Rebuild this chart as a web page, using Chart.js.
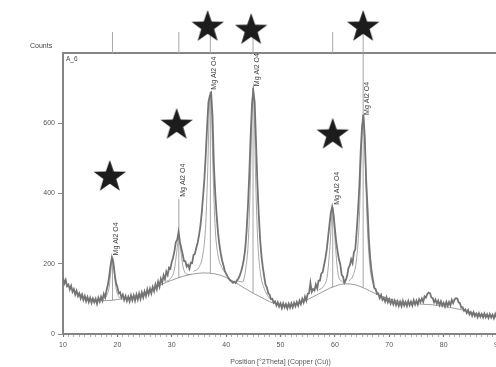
<!DOCTYPE html>
<html>
<head>
<meta charset="utf-8">
<script src="https://cdn.jsdelivr.net/npm/chart.js@4.4.1/dist/chart.umd.min.js"></script>
<style>
  html, body { margin: 0; padding: 0; background: #fff; overflow: hidden; }
  #wrap { width: 496px; height: 367px; overflow: hidden; }
</style>
</head>
<body>
<div id="wrap"><canvas id="xrd" width="500" height="367"></canvas></div>
<script>
const obsStart = 10, obsStep = 0.25;
const obsCounts = [
  160, 144, 154, 136,  140, 127, 137, 120,  128, 112, 123, 108,  116, 101, 112, 97,
  108, 93, 105, 91,    103, 89, 101, 90,    100, 86, 103, 92,    106, 95, 114, 104,
  124, 140, 165, 195,  218, 205, 172, 145,  134, 116, 119, 104,  112, 97, 108, 94,
  106, 93, 110, 96,    110, 95, 112, 98,    115, 100, 118, 104,  121, 108, 127, 113,
  129, 116, 134, 122,  141, 128, 149, 135,  157, 146, 167, 156,  178, 168, 189, 186,
  205, 218, 236, 262,  268, 290, 262, 245,  228, 208, 207, 192,  197, 186, 203, 202,
  225, 228, 245, 258,  280, 305, 342, 390,  440, 510, 590, 660,  678, 685, 620, 480,
  400, 340, 290, 256,  230, 210, 196, 180,  172, 164, 158, 152,  150, 146, 149, 145,
  153, 158, 166, 178,  192, 212, 240, 290,  360, 450, 560, 650,  692, 660, 545, 430,
  340, 270, 222, 190,  164, 140, 132, 116,  112, 99, 100, 89,    93, 81, 90, 78,
  87, 74, 87, 76,      85, 73, 86, 75,      87, 76, 89, 79,      91, 81, 95, 85,
  100, 90, 106, 95,    114, 116, 145, 120,  128, 124, 141, 130,  152, 152, 172, 176,
  195, 215, 240, 275,  310, 345, 362, 340,  300, 262, 235, 212,  198, 168, 163, 146,
  153, 165, 188, 195,  213, 202, 233, 241,  290, 350, 420, 520,  590, 625, 560, 440,
  360, 270, 215, 178,  153, 131, 128, 114,  115, 102, 111, 97,   103, 92, 104, 90,
  99, 86, 96, 84,      95, 82, 93, 80,      92, 79, 94, 81,      91, 80, 94, 82,
  92, 81, 96, 84,      95, 84, 99, 91,      101, 92, 107, 104,   114, 118, 116, 104,
  102, 90, 98, 86,     95, 82, 93, 81,      89, 78, 91, 80,      91, 82, 97, 88,
  98, 102, 101, 90,    88, 75, 76, 66,      70, 60, 68, 56,      62, 52, 62, 51,
  58, 48, 59, 49,      57, 47, 58, 48,      56, 46, 57, 47,      55, 45, 57, 47,
  54
];

// Fitted background, one value per degree
const bgAngles = [10,11,12,13,14,15,16,17,18,19,20,21,22,23,24,25,26,27,28,29,30,
  31,32,33,34,35,36,37,38,39,40,41,42,43,44,45,46,47,48,49,50,51,52,53,54,55,56,57,58,59,60,
  61,62,63,64,65,66,67,68,69,70,71,72,73,74,75,76,77,78,79,80,81,82,83,84,85,86,87,88,89,90];
const bgCounts = [150,136,124,114,106,100,97,95,95,96,98,100,103,107,112,118,125,132,140,147,153,
  159,164,168,171,173,174,173,171,167,161,153,144,134,125,116,108,100,92,87,84,82,83,86,91,98,106,114,122,130,136,
  141,143,142,139,133,126,118,111,105,100,96,92,89,87,86,85,84,83,81,79,76,73,70,66,62,58,55,52,50,48];

// Mg Al2 O4 peaks
const peakPos = [19.1, 31.3, 37.1, 44.95, 59.6, 65.2];
const peakBase = [96, 159, 173, 116, 133, 132];
const stickTop = [218, 385, 690, 700, 362, 800];
const labelAt = [218, 385, 690, 700, 362, 618];
const peakLabel = 'Mg Al2 O4';

// fitted single-peak profiles (angle, counts)
const fitAngles = [
  [17.5, 18, 18.5, 18.8, 19.1, 19.4, 19.7, 20.2, 20.7],
  [29, 29.8, 30.5, 31, 31.3, 31.6, 32.1, 32.8, 33.6],
  [34, 35, 35.7, 36.2, 36.6, 36.9, 37.1, 37.3, 37.6, 38, 38.5, 39.2, 40.2],
  [42, 43, 43.6, 44.1, 44.5, 44.75, 44.95, 45.15, 45.4, 45.8, 46.3, 47, 48],
  [57, 58, 58.6, 59.1, 59.6, 60.1, 60.6, 61.3, 62],
  [62.5, 63.3, 64, 64.5, 64.9, 65.2, 65.5, 65.9, 66.4, 67.1, 68]
];
const fitCounts = [
  [100, 108, 135, 180, 218, 180, 135, 108, 101],
  [150, 158, 185, 245, 285, 245, 190, 170, 169],
  [178, 190, 225, 300, 460, 640, 690, 640, 460, 300, 225, 190, 168],
  [152, 148, 185, 270, 460, 650, 700, 650, 460, 270, 175, 130, 100],
  [125, 138, 165, 250, 362, 250, 170, 150, 146],
  [150, 165, 215, 330, 540, 620, 540, 330, 200, 140, 115]
];

// reference marks (stars partly sit above the frame)
const refTop = 860;
const starAngles = [18.6, 30.9, 59.6, 36.6, 44.6, 65.2];
const starCounts = [447, 595, 567, 874, 865, 874];

const xTicks = [10, 20, 30, 40, 50, 60, 70, 80, 90];
const yTicks = [0, 200, 400, 600];

const FONT = 'Liberation Sans, Arial, sans-serif';
const LINE = '#8e8e8e';

function makeStar(r) {
  const c = document.createElement('canvas');
  c.width = c.height = 2 * r + 2;
  const g = c.getContext('2d');
  g.fillStyle = '#1c1c1c';
  g.beginPath();
  for (let i = 0; i < 10; i++) {
    const a = -Math.PI / 2 + i * Math.PI / 5;
    const rr = i % 2 ? r * 0.4 : r;
    g.lineTo(r + 1 + rr * Math.cos(a), r + 1 + rr * Math.sin(a));
  }
  g.closePath();
  g.fill();
  return c;
}
const starImg = makeStar(17);

const observed = obsCounts.map((v, i) => ({ x: obsStart + i * obsStep, y: v }));
const background = bgAngles.map((a, i) => ({ x: a, y: bgCounts[i] }));

const sticks = [];
const topSticks = [];
peakPos.forEach((p, i) => {
  sticks.push({ x: p, y: peakBase[i] }, { x: p, y: stickTop[i] }, { x: p, y: null });
  topSticks.push({ x: p, y: 800 }, { x: p, y: refTop }, { x: p, y: null });
});

const datasets = [
  {
    data: observed, borderColor: '#747474', borderWidth: 1.8,
    pointRadius: 0, tension: 0
  },
  {
    data: topSticks, borderColor: '#a8a8a8', borderWidth: 1,
    pointRadius: 0, clip: false, spanGaps: false
  },
  {
    data: sticks, borderColor: LINE, borderWidth: 0.8,
    pointRadius: 0, spanGaps: false
  },
  {
    data: background, borderColor: LINE, borderWidth: 0.9,
    pointRadius: 0, cubicInterpolationMode: 'monotone'
  }
];
fitAngles.forEach((angles, k) => {
  datasets.push({
    data: angles.map((a, i) => ({ x: a, y: fitCounts[k][i] })),
    borderColor: LINE, borderWidth: 0.8, pointRadius: 0,
    cubicInterpolationMode: 'monotone'
  });
});

// stars, peak labels and frame texts
const textPlugin = {
  id: 'texts',
  afterDatasetsDraw(chart) {
    const { ctx, chartArea, scales: { x, y } } = chart;
    ctx.save();
    starAngles.forEach((a, i) => {
      ctx.drawImage(starImg,
        x.getPixelForValue(a) - starImg.width / 2,
        y.getPixelForValue(starCounts[i]) - starImg.height / 2);
    });
    ctx.fillStyle = '#444';
    ctx.font = '7px ' + FONT;
    peakPos.forEach((p, i) => {
      ctx.save();
      ctx.translate(x.getPixelForValue(p) + 4, y.getPixelForValue(labelAt[i]) - 2);
      ctx.rotate(-Math.PI / 2);
      ctx.textAlign = 'left';
      ctx.textBaseline = 'middle';
      ctx.fillText(peakLabel, 0, 0);
      ctx.restore();
    });
    ctx.textBaseline = 'top';
    ctx.textAlign = 'left';
    ctx.font = '6.5px ' + FONT;
    ctx.fillText('A_6', chartArea.left + 3, chartArea.top + 3);
    ctx.font = '7px ' + FONT;
    ctx.textBaseline = 'middle';
    ctx.fillText('Counts', chartArea.left - 33, chartArea.top - 7);
    ctx.restore();
  }
};

new Chart(document.getElementById('xrd'), {
  type: 'line',
  data: { datasets },
  options: {
    responsive: false,
    animation: false,
    devicePixelRatio: 1,
    layout: { autoPadding: false, padding: { left: 0, right: 2, top: 0, bottom: 0 } },
    plugins: { legend: { display: false }, tooltip: { enabled: false } },
    scales: {
      x: {
        type: 'linear', min: 10, max: 90,
        afterFit(s) { s.height = 33; s.paddingLeft = 0; s.paddingRight = 0; },
        afterBuildTicks(s) {
          const t = [];
          for (let v = 10; v <= 90; v++) t.push({ value: v });
          s.ticks = t;
        },
        ticks: {
          autoSkip: false, maxRotation: 0, padding: 4,
          color: '#555', font: { family: FONT, size: 7 },
          callback: v => xTicks.includes(v) ? String(v) : ''
        },
        grid: {
          drawOnChartArea: false, tickLength: 3,
          tickColor: c => xTicks.includes(c.tick && c.tick.value) ? '#777' : '#999',
          tickWidth: c => xTicks.includes(c.tick && c.tick.value) ? 1.2 : 0.8
        },
        border: { color: '#858585', width: 2 },
        title: {
          display: true, text: 'Position [°2Theta] (Copper (Cu))',
          color: '#555', font: { family: FONT, size: 7 }, padding: { top: 0, bottom: 1 }
        }
      },
      x2: {
        type: 'linear', position: 'top', min: 10, max: 90,
        afterFit(s) { s.height = 53; s.paddingLeft = 0; s.paddingRight = 0; },
        ticks: { display: false },
        grid: { display: false },
        border: { display: true, color: '#858585', width: 2 }
      },
      y: {
        type: 'linear', min: 0, max: 800,
        afterFit(s) { s.width = 63; },
        afterBuildTicks(s) { s.ticks = yTicks.map(v => ({ value: v })); },
        ticks: { color: '#555', padding: 3, font: { family: FONT, size: 7 } },
        grid: { drawOnChartArea: false, tickLength: 5, tickColor: '#888' },
        border: { color: '#858585', width: 2 }
      }
    }
  },
  plugins: [textPlugin]
});
</script>
</body>
</html>
